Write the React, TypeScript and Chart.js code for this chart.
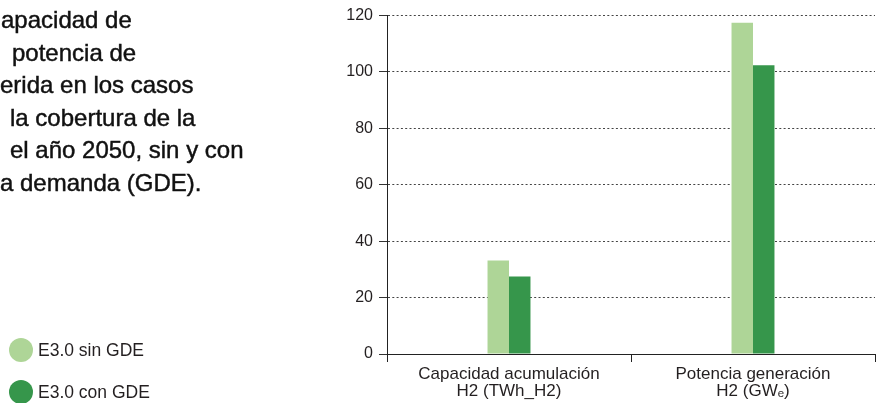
import React, { useEffect, useRef } from "react";
import { Chart, registerables } from "chart.js";

Chart.register(...registerables);

// ---- data ----
const categories: string[][] = [
  ["Capacidad acumulación", "H2 (TWh_H2)"],
  ["Potencia generación", "H2 (GWₑ)"],
];
const seriesNames = ["E3.0 sin GDE", "E3.0 con GDE"];
const sinGDE = [33.2, 117.5];
const conGDE = [27.5, 102.4];
const yTicks = [0, 20, 40, 60, 80, 100, 120];
const titleLines = [
  "apacidad de",
  "potencia de",
  "erida en los casos",
  "la cobertura de la",
  "el año 2050, sin y con",
  "a demanda (GDE).",
];

// ---- styles ----
const FONT = "'Liberation Sans', Arial, Helvetica, sans-serif";
const TEXT = "#231f20";
const LIGHT = "#aed597";
const DARK = "#36964b";
const seriesColors = [LIGHT, DARK];
const titleOffsets = [1, 12, 0, 10, 10, 0];

export default function App() {
  const ref = useRef<HTMLCanvasElement | null>(null);

  useEffect(() => {
    const canvas = ref.current;
    if (!canvas) return;
    const chart = new Chart(canvas, {
      type: "bar",
      data: {
        labels: categories,
        datasets: [
          {
            label: seriesNames[0],
            data: sinGDE,
            backgroundColor: seriesColors[0],
            borderWidth: 0,
            barPercentage: 1,
            categoryPercentage: 0.176,
          },
          {
            label: seriesNames[1],
            data: conGDE,
            backgroundColor: seriesColors[1],
            borderWidth: 0,
            barPercentage: 1,
            categoryPercentage: 0.176,
          },
        ],
      },
      options: {
        responsive: false,
        animation: false,
        devicePixelRatio: 1,
        layout: { padding: { top: 14, right: 1, left: 0, bottom: 0 } },
        plugins: {
          legend: { display: false },
          tooltip: { enabled: false },
          title: { display: false },
        },
        scales: {
          x: {
            grid: {
              drawOnChartArea: false,
              drawTicks: true,
              tickLength: 8,
              color: "#222",
              offset: true,
            },
            border: { color: "#222", width: 1 },
            ticks: {
              color: TEXT,
              font: { family: FONT, size: 17, lineHeight: 1.04 },
              padding: 3,
              maxRotation: 0,
              minRotation: 0,
              autoSkip: false,
            },
            afterFit: (s: any) => {
              s.height = 49;
            },
          },
          y: {
            min: 0,
            max: 120,
            afterBuildTicks: (s: any) => {
              s.ticks = yTicks.map((v) => ({ value: v }));
            },
            grid: {
              color: "#444",
              tickColor: "#333",
              tickLength: 8,
              lineWidth: 1,
            },
            border: { color: "#222", width: 1, dash: [2, 2.3], dashOffset: 0 },
            ticks: {
              color: TEXT,
              font: { family: FONT, size: 16 },
              padding: 6,
            },
            afterFit: (s: any) => {
              s.width = 387;
            },
          },
        },
      },
    });
    return () => chart.destroy();
  }, []);

  return (
    <div
      style={{
        position: "fixed",
        left: 0,
        top: 0,
        width: 876,
        height: 403,
        overflow: "hidden",
        background: "#fff",
      }}
    >
      <canvas
        ref={ref}
        width={876}
        height={403}
        style={{ position: "absolute", left: 0, top: 0, width: 876, height: 403 }}
      />
      {titleLines.map((t, i) => (
        <div
          key={i}
          style={{
            position: "absolute",
            left: titleOffsets[i],
            top: 4 + i * 32.5,
            fontFamily: FONT,
            fontSize: 24,
            lineHeight: "32.5px",
            color: "#111",
            whiteSpace: "nowrap",
            WebkitTextStroke: "0.45px #111",
          }}
        >
          {t}
        </div>
      ))}
      {seriesNames.map((n, i) => (
        <div
          key={n}
          style={{
            position: "absolute",
            left: 9,
            top: 338 + i * 42,
            height: 24,
            display: "flex",
            alignItems: "center",
            fontFamily: FONT,
            fontSize: 17.5,
            color: TEXT,
            whiteSpace: "nowrap",
          }}
        >
          <span
            style={{
              display: "inline-block",
              width: 24,
              height: 24,
              borderRadius: "50%",
              background: seriesColors[i],
              marginRight: 5,
            }}
          />
          {n}
        </div>
      ))}
    </div>
  );
}
